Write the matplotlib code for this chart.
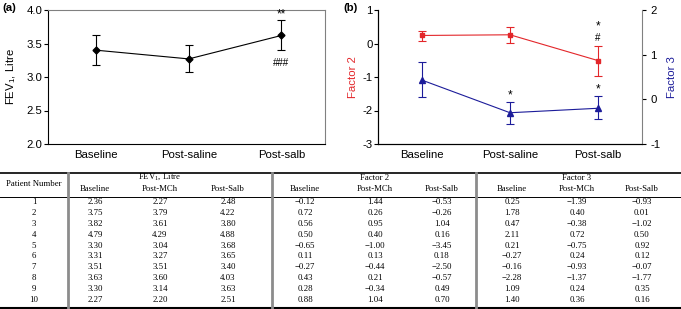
import numpy as np
import matplotlib
matplotlib.use("Agg")
from matplotlib import pyplot as plt

plt.rcParams['font.family'] = ['Liberation Sans', 'DejaVu Sans']
plt.rcParams['axes.unicode_minus'] = False

# ---- data ----
groups = ["Baseline", "Post-saline", "Post-salb"]

fev_mean = [3.40, 3.27, 3.62]
fev_lo = [3.18, 3.07, 3.40]
fev_hi = [3.63, 3.48, 3.85]

f2_mean = [0.24, 0.26, -0.51]
f2_lo = [0.08, 0.01, -0.97]
f2_hi = [0.36, 0.48, -0.08]

f3_mean = [0.43, -0.30, -0.20]
f3_lo = [0.05, -0.55, -0.43]
f3_hi = [0.84, -0.07, 0.07]

patients = list(range(1, 11))
fev_base = [2.36, 3.75, 3.82, 4.79, 3.30, 3.31, 3.51, 3.63, 3.30, 2.27]
fev_mch = [2.27, 3.79, 3.61, 4.29, 3.04, 3.27, 3.51, 3.60, 3.14, 2.20]
fev_salb = [2.48, 4.22, 3.80, 4.88, 3.68, 3.65, 3.40, 4.03, 3.63, 2.51]
f2_base = [-0.12, 0.72, 0.56, 0.50, -0.65, 0.11, -0.27, 0.43, 0.28, 0.88]
f2_mch = [1.44, 0.26, 0.95, 0.40, -1.00, 0.13, -0.44, 0.21, -0.34, 1.04]
f2_salb = [-0.53, -0.26, 1.04, 0.16, -3.45, 0.18, -2.50, -0.57, 0.49, 0.70]
f3_base = [0.25, 1.78, 0.47, 2.11, 0.21, -0.27, -0.16, -2.28, 1.09, 1.40]
f3_mch = [-1.39, 0.40, -0.38, 0.72, -0.75, 0.24, -0.93, -1.37, 0.24, 0.36]
f3_salb = [-0.93, 0.01, -1.02, 0.50, 0.92, 0.12, -0.07, -1.77, 0.35, 0.16]

red = '#e3262a'
blue = '#1c1c9a'
W, H = 681, 309
fs = 8.2

fig = plt.figure(figsize=(6.81, 3.09), dpi=100)

def box(l, r, t, b):
    return [l / W, 1 - b / H, (r - l) / W, (b - t) / H]

x = np.arange(3)

# ---- panel (a) ----
ax = fig.add_axes(box(48, 325, 10, 144))
err = [np.array(fev_mean) - fev_lo, np.array(fev_hi) - fev_mean]
ax.errorbar(x, fev_mean, yerr=err, color='k', marker='D', ms=3.5, lw=0.8,
            elinewidth=0.8, capsize=3, capthick=0.8)
ax.set_xlim(-0.52, 2.47)
ax.set_ylim(2.0, 4.0)
ax.set_yticks([2.0, 2.5, 3.0, 3.5, 4.0])
ax.set_xticks(x)
ax.set_xticklabels(groups, fontsize=fs)
ax.tick_params(axis='x', length=0, pad=4)
ax.tick_params(axis='y', labelsize=fs, length=3, width=0.8, pad=1)
ax.set_ylabel(r"FEV$_\mathregular{1}$, Litre", fontsize=fs, labelpad=6)
for s in ['top', 'right']:
    ax.spines[s].set_color('#808080')
ax.text(2, 3.94, "**", ha='center', va='center', fontsize=8.5)
ax.text(2, 3.21, "###", ha='center', va='center', fontsize=7)

# ---- panel (b) ----
bx = fig.add_axes(box(378, 642, 10, 144))
err2 = [np.array(f2_mean) - f2_lo, np.array(f2_hi) - f2_mean]
bx.errorbar(x, f2_mean, yerr=err2, color=red, marker='s', ms=3.5, lw=0.8,
            elinewidth=0.8, capsize=3, capthick=0.8)
bx.set_xlim(-0.5, 2.5)
bx.set_ylim(-3, 1)
bx.set_yticks([-3, -2, -1, 0, 1])
bx.set_xticks(x)
bx.set_xticklabels(groups, fontsize=fs)
bx.tick_params(axis='x', length=0, pad=4)
bx.tick_params(axis='y', labelsize=fs, length=3, width=0.8, pad=1)
bx.set_ylabel("Factor 2", color=red, fontsize=fs, labelpad=3)
bx.spines['top'].set_visible(False)
bx.spines['right'].set_visible(False)
bx.text(2, 0.52, "*", ha='center', va='center', fontsize=8.5)
bx.text(2, 0.15, "#", ha='center', va='center', fontsize=7)

bx2 = bx.twinx()
err3 = [np.array(f3_mean) - f3_lo, np.array(f3_hi) - f3_mean]
bx2.errorbar(x, f3_mean, yerr=err3, color=blue, marker='^', ms=4, lw=0.8,
             elinewidth=0.8, capsize=3, capthick=0.8)
bx2.set_ylim(-1, 2)
bx2.set_yticks([-1, 0, 1, 2])
bx2.tick_params(axis='y', labelsize=fs, length=3, width=0.8, pad=3)
bx2.set_ylabel("Factor 3", color=blue, fontsize=fs, labelpad=5)
bx2.spines['top'].set_visible(False)
bx2.spines['right'].set_color('#808080')
bx2.text(1, 0.09, "*", ha='center', va='center', fontsize=8.5)
bx2.text(2, 0.23, "*", ha='center', va='center', fontsize=8.5)

fig.text(2 / W, 1 - 8 / H, "(a)", fontsize=fs, fontweight='bold', va='center')
fig.text(343 / W, 1 - 8 / H, "(b)", fontsize=fs, fontweight='bold', va='center')

# ---- table ----
tx = fig.add_axes([0, 0, 1, 1])
tx.set_xlim(0, W)
tx.set_ylim(H, 0)
tx.axis('off')
tx.patch.set_alpha(0)

tfont = dict(family='Liberation Serif', fontsize=6.3, ha='center', va='center')
tx.plot([0, W], [172.5, 172.5], color='k', lw=1.2)
tx.plot([0, W], [197, 197], color='k', lw=0.7)
tx.plot([0, W], [307.5, 307.5], color='k', lw=1.5)
for vx in [68, 272, 476]:
    tx.plot([vx, vx], [172.5, 307.5], color='#8c8c8c', lw=2)

cols = [95, 160, 228, 305, 375, 442, 512, 577, 642]
tx.text(34, 184, "Patient Number", **tfont)
tx.text(160, 177, r"FEV$_\mathregular{1}$, Litre", **tfont)
tx.text(375, 177.5, "Factor 2", **tfont)
tx.text(577, 177.5, "Factor 3", **tfont)
subs = ["Baseline", "Post-MCh", "Post-Salb"] * 3
for cx, s in zip(cols, subs):
    tx.text(cx, 189, s, **tfont)

def fmt(v):
    s = "%.2f" % abs(v)
    return ("\u2212" + s) if v < 0 else s

table_cols = [fev_base, fev_mch, fev_salb, f2_base, f2_mch, f2_salb,
              f3_base, f3_mch, f3_salb]
for i, p in enumerate(patients):
    ry = 202 + 10.9 * i
    tx.text(34, ry, str(p), **tfont)
    for cx, col in zip(cols, table_cols):
        tx.text(cx, ry, fmt(col[i]), **tfont)

fig.savefig("out.png", dpi=100)
